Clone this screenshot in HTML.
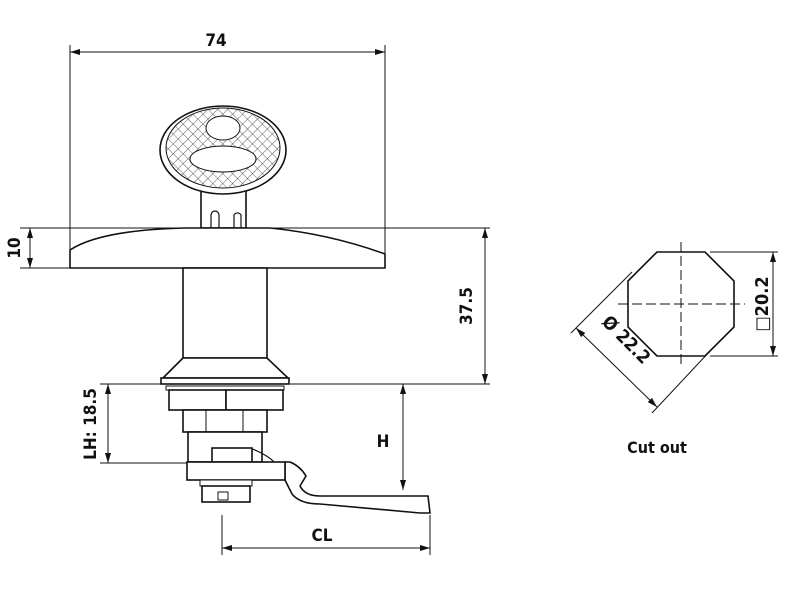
<!DOCTYPE html>
<html><head><style>body{margin:0;background:#fff}svg{display:block}text{font-family:"DejaVu Sans Condensed","Liberation Sans",sans-serif;font-weight:bold;fill:#111}</style></head>
<body>
<svg width="800" height="598" viewBox="0 0 800 598" xmlns="http://www.w3.org/2000/svg">
<defs>
<marker id="a" viewBox="0 0 10 6" refX="10" refY="3" markerWidth="12" markerHeight="6" orient="auto-start-reverse" markerUnits="userSpaceOnUse"><path d="M0,0L10,3L0,6z" fill="#111"/></marker>
<pattern id="h" width="7" height="7" patternUnits="userSpaceOnUse" patternTransform="rotate(45)"><path d="M0,0H7M0,0V7" stroke="#333" stroke-width="0.8"/></pattern>
</defs>
<g stroke="#111" fill="none" stroke-width="1">
<line x1="70" y1="45" x2="70" y2="252"/><line x1="385" y1="45" x2="385" y2="254"/>
<line x1="70" y1="52" x2="385" y2="52" marker-start="url(#a)" marker-end="url(#a)"/>
<line x1="20" y1="228" x2="490" y2="228"/>
<line x1="20" y1="268" x2="70" y2="268"/>
<line x1="30" y1="228" x2="30" y2="268" marker-start="url(#a)" marker-end="url(#a)"/>
<line x1="290" y1="384" x2="490" y2="384"/><line x1="100" y1="384" x2="165" y2="384"/>
<line x1="485" y1="228" x2="485" y2="384" marker-start="url(#a)" marker-end="url(#a)"/>
<line x1="403" y1="384" x2="403" y2="490" marker-start="url(#a)" marker-end="url(#a)"/>
<line x1="100" y1="463" x2="215" y2="463"/>
<line x1="108" y1="384" x2="108" y2="463" marker-start="url(#a)" marker-end="url(#a)"/>
<line x1="222" y1="515" x2="222" y2="555"/><line x1="430" y1="515" x2="430" y2="555"/>
<line x1="222" y1="548" x2="430" y2="548" marker-start="url(#a)" marker-end="url(#a)"/>
</g>
<g stroke="#111" fill="#fff" stroke-width="1.6">
<rect x="201" y="188" width="45" height="40"/>
<path d="M211,228V215a4,4 0 0 1 8,0V228M234,228V215a4,4 0 0 1 7,0V228" fill="none" stroke-width="1.2"/>
<ellipse cx="223" cy="150" rx="63" ry="44"/>
<ellipse cx="223" cy="148" rx="57" ry="40" fill="url(#h)" stroke-width="1"/>
<ellipse cx="223" cy="128" rx="17" ry="12" stroke-width="1"/>
<ellipse cx="223" cy="159" rx="33" ry="13" stroke-width="1"/>
<path d="M70,250Q100,230 185,228H270Q330,234 385,254V268H70Z"/>
<rect x="183" y="268" width="84" height="90"/>
<path d="M183,358L163,378H288L267,358Z"/>
<rect x="161" y="378" width="128" height="6"/>
<rect x="166" y="386" width="118" height="4" stroke-width="1"/>
<rect x="169" y="390" width="57" height="20"/><rect x="226" y="390" width="57" height="20"/>
<rect x="183" y="410" width="84" height="22"/>
<line x1="206" y1="410" x2="206" y2="432" stroke-width="1"/><line x1="243" y1="410" x2="243" y2="432" stroke-width="1"/>
<rect x="188" y="432" width="74" height="30"/>
<path d="M250,448Q268,455 275,463" fill="none" stroke-width="1.2"/>
<rect x="212" y="448" width="40" height="14"/>
<path d="M285,462H290Q300,466 306,476L300,486Q305,496 320,496H428L430,513H420L320,504Q300,504 292,494L285,480Z"/>
<rect x="187" y="462" width="98" height="18"/>
<rect x="200" y="480" width="52" height="6" stroke-width="1"/>
<rect x="202" y="486" width="48" height="16"/>
<rect x="218" y="492" width="10" height="8" stroke-width="1"/>
<path d="M657,252H705L734,281V327L705,356H657L628,327V281Z"/>
</g>
<g stroke="#111" fill="none" stroke-width="1">
<line x1="681" y1="242" x2="681" y2="366" stroke-dasharray="10,4"/>
<line x1="618" y1="304" x2="745" y2="304" stroke-dasharray="10,4"/>
<line x1="710" y1="252" x2="778" y2="252"/><line x1="710" y1="356" x2="778" y2="356"/>
<line x1="773" y1="252" x2="773" y2="356" marker-start="url(#a)" marker-end="url(#a)"/>
<line x1="632" y1="272" x2="571" y2="333"/><line x1="711" y1="350" x2="652" y2="413"/>
<line x1="576" y1="328" x2="657" y2="407" marker-start="url(#a)" marker-end="url(#a)"/>
</g>
<g font-size="17">
<text x="216" y="46" text-anchor="middle" font-weight="normal">74</text>
<text transform="translate(20,248) rotate(-90)" text-anchor="middle" font-weight="normal">10</text>
<text transform="translate(472,306) rotate(-90)" text-anchor="middle" font-weight="normal">37.5</text>
<text transform="translate(96,424) rotate(-90)" text-anchor="middle">LH: 18.5</text>
<text x="383" y="447" text-anchor="middle">H</text>
<text x="322" y="541" text-anchor="middle">CL</text>
<text x="657" y="453" text-anchor="middle" font-size="16">Cut out</text>
<text transform="translate(768,304) rotate(-90)" text-anchor="middle" font-weight="normal" font-size="18">□20.2</text>
<text transform="translate(622,344) rotate(45)" text-anchor="middle" font-weight="normal" font-size="18">Ø 22.2</text>
</g>
</svg>
</body></html>
